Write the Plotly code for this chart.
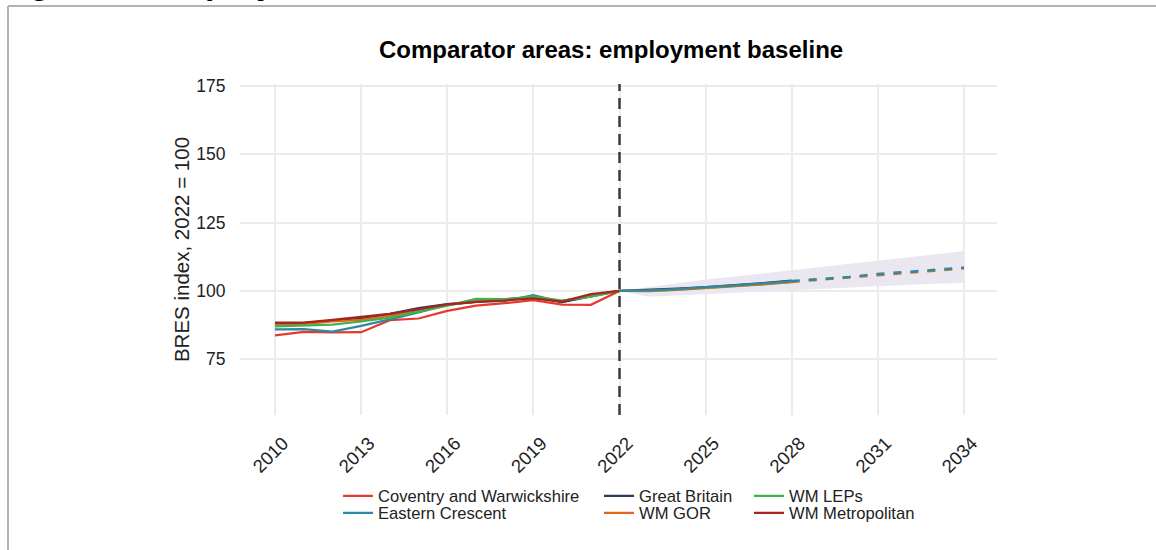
import plotly.graph_objects as go

# ---------------- data ----------------
years_hist = [2010, 2011, 2012, 2013, 2014, 2015, 2016, 2017, 2018, 2019, 2020, 2021, 2022]
coventry = [83.7, 85.0, 84.8, 84.9, 89.3, 89.9, 92.7, 94.6, 95.5, 96.6, 95.0, 94.9, 100.0]
eastern_crescent = [85.9, 86.0, 85.1, 87.2, 89.6, 92.1, 94.9, 96.0, 96.3, 98.5, 95.9, 97.9, 100.0]
great_britain = [88.2, 88.2, 89.1, 90.0, 91.6, 93.7, 95.2, 96.0, 96.7, 97.7, 95.9, 98.2, 100.0]
wm_gor = [87.7, 87.8, 88.8, 89.4, 90.9, 92.7, 94.8, 96.3, 96.7, 97.7, 96.3, 98.3, 100.0]
wm_leps = [87.0, 87.3, 87.7, 88.8, 90.2, 92.4, 94.6, 97.1, 97.0, 97.9, 96.5, 97.9, 100.0]
wm_metro = [88.4, 88.4, 89.4, 90.4, 91.6, 93.3, 95.1, 96.0, 96.5, 97.3, 96.1, 98.8, 100.0]

years_proj = [2022, 2023, 2024, 2025, 2026, 2027, 2028]
gb_proj = [100.0, 100.3, 100.8, 101.4, 102.1, 102.9, 103.8]
leps_proj = [100.0, 99.9, 100.4, 101.0, 101.7, 102.4, 103.2]
gor_proj = [100.0, 100.0, 100.5, 101.1, 101.8, 102.5, 103.3]
ec_proj = [100.0, 100.2, 100.7, 101.3, 102.0, 102.8, 103.6]

years_long = [2028, 2029, 2030, 2031, 2032, 2033, 2034]
gor_long = [103.3, 104.1, 104.8, 105.8, 106.6, 107.4, 108.3]
ec_long = [103.6, 104.4, 105.1, 106.2, 106.9, 107.7, 108.6]

ribbon_years = [2022, 2023, 2024, 2025, 2026, 2027, 2028, 2029, 2030, 2031, 2032, 2033, 2034]
ribbon_upper = [100.0, 101.4, 102.8, 104.2, 105.3, 106.5, 107.7, 108.8, 109.9, 111.0, 112.2, 113.4, 114.6]
ribbon_lower = [100.0, 97.9, 98.3, 98.8, 99.3, 99.8, 100.4, 100.9, 101.3, 101.8, 102.2, 102.6, 102.9]

x_ticks = [2010, 2013, 2016, 2019, 2022, 2025, 2028, 2031, 2034]
y_ticks = [75, 100, 125, 150, 175]

series_names = ["Coventry and Warwickshire", "Eastern Crescent", "Great Britain",
                "WM GOR", "WM LEPs", "WM Metropolitan"]
colors = {
    "Coventry and Warwickshire": "#e8392e",
    "Eastern Crescent": "#2b8aa6",
    "Great Britain": "#2e3a5c",
    "WM GOR": "#e1661c",
    "WM LEPs": "#44b04b",
    "WM Metropolitan": "#a3261f",
}
hist_values = {
    "Coventry and Warwickshire": coventry,
    "Eastern Crescent": eastern_crescent,
    "Great Britain": great_britain,
    "WM GOR": wm_gor,
    "WM LEPs": wm_leps,
    "WM Metropolitan": wm_metro,
}

# ---------------- layout geometry ----------------
W, H = 1156, 550
PL, PR, PT, PB = 240, 997, 84, 415  # plot area in pixels


def px_x(p):
    return (p - PL) / (PR - PL)


def px_y(p):
    return (PB - p) / (PB - PT)


FONT = "Liberation Sans, Arial, Helvetica, sans-serif"

fig = go.Figure()

# ribbon
fig.add_trace(go.Scatter(x=ribbon_years, y=ribbon_lower, mode="lines",
                         line=dict(width=0, color="rgba(0,0,0,0)"),
                         showlegend=False, hoverinfo="skip"))
fig.add_trace(go.Scatter(x=ribbon_years, y=ribbon_upper, mode="lines",
                         line=dict(width=0, color="rgba(0,0,0,0)"),
                         fill="tonexty", fillcolor="#ebe7f1",
                         showlegend=False, hoverinfo="skip"))

# legend placement: legend slot -> (column text x px, row y px)
legend_slots = {
    "Coventry and Warwickshire": ("legend", 380, 496),
    "Eastern Crescent": ("legend2", 380, 513),
    "Great Britain": ("legend3", 641, 496),
    "WM GOR": ("legend4", 641, 513),
    "WM LEPs": ("legend5", 791, 496),
    "WM Metropolitan": ("legend6", 791, 513),
}

for name in series_names:
    fig.add_trace(go.Scatter(x=years_hist, y=hist_values[name], mode="lines",
                             name=name, line=dict(color=colors[name], width=2.2),
                             legend=legend_slots[name][0]))

# projections (solid)
for name, vals in [("Great Britain", gb_proj), ("WM LEPs", leps_proj),
                   ("WM GOR", gor_proj), ("Eastern Crescent", ec_proj)]:
    fig.add_trace(go.Scatter(x=years_proj, y=vals, mode="lines", name=name,
                             line=dict(color=colors[name], width=2.2),
                             showlegend=False))
# long-term (dashed)
for name, vals in [("WM GOR", gor_long), ("Eastern Crescent", ec_long)]:
    fig.add_trace(go.Scatter(x=years_long, y=vals, mode="lines", name=name,
                             line=dict(color=colors[name], width=2.5, dash="8px,9px"),
                             showlegend=False))

layout_legends = {}
for name, (key, tx, ty) in legend_slots.items():
    layout_legends[key] = dict(
        x=px_x(tx - 42), y=px_y(ty), xanchor="left", yanchor="middle",
        bgcolor="rgba(0,0,0,0)", borderwidth=0,
        font=dict(family=FONT, size=16.6, color="#222222"),
    )

shapes = [
    # reference line at 100
    dict(type="line", xref="paper", yref="y", x0=0, x1=1, y0=100, y1=100,
         line=dict(color="#6b6b6b", width=1.5), layer="between"),
    # 2022 base year
    dict(type="line", xref="x", yref="paper", x0=2022, x1=2022, y0=0, y1=1,
         line=dict(color="#3c3c3c", width=2.5, dash="11px,7px"), layer="above"),
    # document frame
    dict(type="line", xref="paper", yref="paper", x0=px_x(8), x1=px_x(1170),
         y0=px_y(6), y1=px_y(6), line=dict(color="#b3b3b3", width=2)),
    dict(type="line", xref="paper", yref="paper", x0=px_x(8), x1=px_x(8),
         y0=px_y(6), y1=px_y(560), line=dict(color="#b3b3b3", width=2)),
]

annotations = [
    dict(text="<b>Comparator areas: employment baseline</b>", xref="paper", yref="paper",
         x=px_x(610.5), y=px_y(49.5), xanchor="center", yanchor="middle", showarrow=False,
         font=dict(family=FONT, size=24, color="#000000")),
    dict(text="<b>Figure 3: Employment baseline</b>", xref="paper", yref="paper",
         x=px_x(-3), y=px_y(3), xanchor="left", yanchor="bottom", showarrow=False,
         font=dict(family=FONT, size=34, color="#000000")),
]

fig.update_layout(
    width=W, height=H,
    margin=dict(l=PL, r=W - PR, t=PT, b=H - PB, autoexpand=False),
    paper_bgcolor="white", plot_bgcolor="white",
    font=dict(family=FONT, color="#222222"),
    shapes=shapes, annotations=annotations,
    showlegend=True,
    **layout_legends,
)

fig.update_xaxes(range=[2008.78, 2035.15], tickvals=x_ticks, ticktext=[str(v) for v in x_ticks],
                 tickangle=-45, showgrid=True, gridcolor="#ebebeb", gridwidth=1.5,
                 zeroline=False, showline=False, ticks="", ticklabelstandoff=13,
                 ticklabelshift=8,
                 tickfont=dict(family=FONT, size=18.5, color="#222222"))
fig.update_yaxes(range=[54.6, 175.7], tickvals=y_ticks, showgrid=True, gridcolor="#ebebeb",
                 gridwidth=1.5, zeroline=False, showline=False, ticks="outside", ticklen=10,
                 tickcolor="rgba(0,0,0,0)",
                 tickfont=dict(family=FONT, size=17.5, color="#222222"),
                 title=dict(text="BRES index, 2022 = 100", standoff=1,
                            font=dict(family=FONT, size=20.5, color="#222222")))

fig.write_html("out.html")
